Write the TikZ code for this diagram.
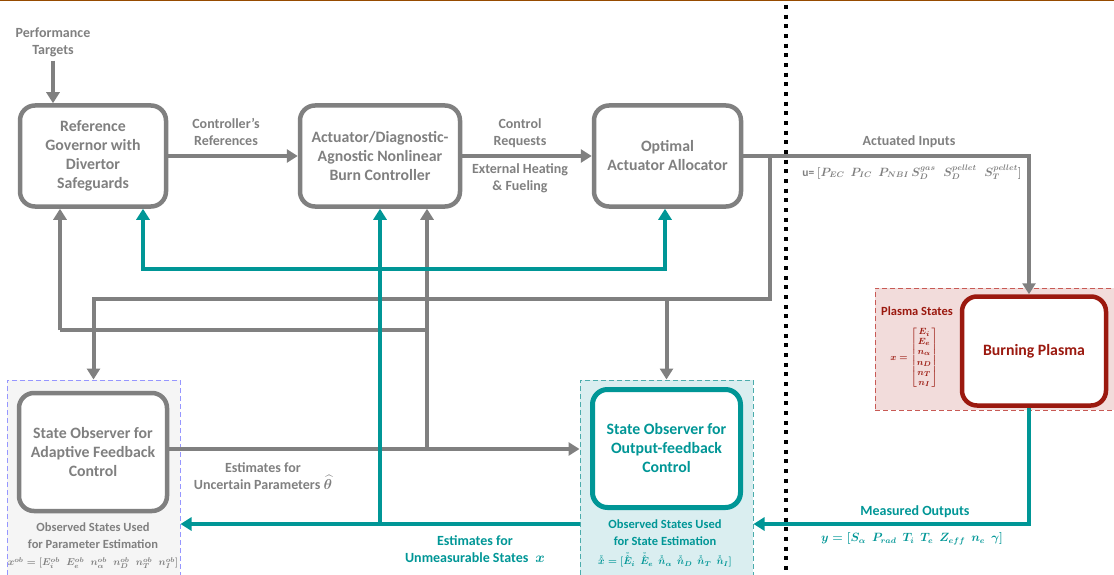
\documentclass[tikz,border=0pt]{standalone}
\usepackage{fontspec}
\setmainfont{Carlito}
\usepackage{amsmath}
\usepackage{bm}
\usetikzlibrary{arrows.meta}
\definecolor{ggray}{RGB}{128,128,128}
\definecolor{tealc}{RGB}{0,150,150}
\definecolor{dred}{RGB}{155,25,15}
\definecolor{brownline}{RGB}{150,75,0}
\definecolor{plasfill}{RGB}{242,220,219}
\definecolor{plasdash}{RGB}{200,90,85}
\definecolor{tealfill}{RGB}{218,238,240}
\definecolor{tealdash}{RGB}{75,172,172}
\definecolor{adfill}{RGB}{245,245,245}
\definecolor{addash}{RGB}{150,150,255}
\tikzset{
  boxg/.style={draw=ggray, line width=4.5pt, rounded corners=15pt, fill=white, align=center, text=ggray, font=\bfseries\fontsize{15.8}{19}\selectfont, inner sep=2pt},
  boxt/.style={boxg, draw=tealc, text=tealc, line width=5pt},
  boxr/.style={boxg, draw=dred, text=dred},
  region/.style={dash pattern=on 5pt off 3pt, line width=1pt, inner sep=0pt, minimum width=173pt, minimum height=200pt},
  lbl/.style={font=\bfseries\fontsize{14}{17}\selectfont, text=ggray, align=center, inner sep=0pt},
  slbl/.style={lbl, font=\bfseries\fontsize{12.5}{16.5}\selectfont},
  tlbl/.style={lbl, text=tealc},
  mth/.style={inner sep=0pt, font=\boldmath\fontsize{11}{13}\selectfont},
  garrow/.style={draw=ggray, line width=4pt, -{Triangle[width=13pt,length=11pt]}},
  tarrow/.style={draw=tealc, line width=4pt, -{Triangle[width=13pt,length=11pt]}},
}
\begin{document}
\begin{tikzpicture}[x=1pt,y=-1pt]
\useasboundingbox (0,0) rectangle (1114,575);
% top rule
\draw[brownline, line width=2pt] (0,0.5) -- (1114,0.5);

% regions
\node[region, draw=addash, fill=adfill] (adreg) at (93.5,480) {};
\node[region, draw=tealdash, fill=tealfill] (tealreg) at (666.5,480) {};
\node[region, draw=plasdash, fill=plasfill, minimum width=241pt, minimum height=122pt] (plasreg) at (995.5,349) {};

% boxes
\node[boxg, minimum width=146pt, minimum height=101pt] (gov) at (93,156) {Reference\\Governor with\\Divertor\\Safeguards};
\node[boxg, minimum width=160pt, minimum height=101pt] (act) at (380,156) {Actuator/Diagnostic-\\Agnostic Nonlinear\\Burn Controller};
\node[boxg, minimum width=147pt, minimum height=101pt] (alloc) at (667.5,156) {Optimal\\Actuator Allocator};
\node[boxr, minimum width=144pt, minimum height=109pt] (plasma) at (1034,351) {Burning Plasma};
\node[boxg, minimum width=148pt, minimum height=118pt] (adapt) at (93,452) {State Observer for\\Adaptive Feedback\\Control};
\node[boxt, minimum width=148pt, minimum height=118pt] (outfb) at (666.5,448.5) {State Observer for\\Output-feedback\\Control};

% labels
\node[lbl] (perf) at (53,42) {Performance\\Targets};
\node[lbl] (cref) at (226,132) {Controller's\\References};
\node[lbl] (creq) at (520,133) {Control\\Requests};
\node[lbl] (ext) at (520,178) {External Heating\\\& Fueling};
\node[lbl] (actin) at (909,142) {Actuated Inputs};
\node[mth, text=ggray, font=\bfseries\boldmath\fontsize{11.5}{13}\selectfont] (uform) at (912,172) {u= $\bm{[P_{EC}\;\, P_{IC}\;\, P_{NBI}\, S_D^{gas}\;\; S_D^{pellet}\;\; S_T^{pellet}]}$};
\node[lbl] (estpar) at (263,476) {Estimates for\\Uncertain Parameters $\widehat{\bm{\theta}}$};
\node[tlbl] (estx) at (475,549.5) {Estimates for\\Unmeasurable States\; $\bm{x}$};
\node[slbl] (obsad) at (93,535.5) {Observed States Used\\for Parameter Estimation};
\node[mth, text=ggray, font=\boldmath\fontsize{10}{12}\selectfont] (xob) at (93,563) {$\bm{x^{ob} = [E_i^{ob}\;\; E_e^{ob}\;\; n_\alpha^{ob}\;\; n_D^{ob}\;\; n_T^{ob}\;\; n_I^{ob}]}$};
\node[slbl, text=tealc] (obsst) at (665,532.5) {Observed States Used\\for State Estimation};
\node[mth, text=tealc, font=\boldmath\fontsize{10}{12}\selectfont] (xring) at (665,560) {$\mathring{\hat{\bm{x}}} = \bm{[}\mathring{\hat{\bm{E}}}_{\bm{i}}\;\, \mathring{\hat{\bm{E}}}_{\bm{e}}\;\, \mathring{\hat{\bm{n}}}_{\bm{\alpha}}\;\, \mathring{\hat{\bm{n}}}_{\bm{D}}\;\, \mathring{\hat{\bm{n}}}_{\bm{T}}\;\, \mathring{\hat{\bm{n}}}_{\bm{I}}\bm{]}$};
\node[tlbl] (meas) at (915,512) {Measured Outputs};
\node[mth, text=tealc, font=\boldmath\fontsize{11.5}{13}\selectfont] (yform) at (912,539) {$\bm{y = [S_\alpha\;\, P_{rad}\;\, T_i\;\, T_e\;\, Z_{eff}\;\, n_e\;\, \gamma]}$};
\node[slbl, text=dred] (plst) at (917,311) {Plasma States};
\node[mth, text=dred, font=\boldmath\fontsize{9.5}{11}\selectfont] (xmat) at (914,358) {\renewcommand{\arraystretch}{0.92}$\bm{x} \bm{=} \left[\begin{matrix}\bm{E_i}\\ \bm{E_e}\\ \bm{n_\alpha}\\ \bm{n_D}\\ \bm{n_T}\\ \bm{n_I}\end{matrix}\right]$};

% junction coordinates
\coordinate (br1) at (770,155);
\coordinate (br2) at (770,299);
\coordinate (j1) at (427,449);
\coordinate (j2) at (427,330);
\coordinate (g60) at (60,330);
\coordinate (ta) at (143,269);
\coordinate (tb) at (665,269);
\coordinate (tv) at (380,524);
\coordinate (mo) at (1029,524);

% gray connectors
\draw[garrow] (perf.south) ++(0,4) -- (perf.south |- gov.north);
\draw[garrow] (gov) -- (act);
\draw[garrow] (act) -- (alloc);
\draw[garrow] (alloc.east) -| ([xshift=-5pt]plasma.north);
\draw[garrow] (br1) -- (br2) -| (adreg.north);
\draw[garrow] (br2 -| tealreg.north) -- (tealreg.north);
\draw[garrow] ([yshift=3pt]adapt.east) -- ([yshift=3pt]adapt.east -| tealreg.west);
\draw[garrow] (j1) -- (j1 |- act.south);
\draw[draw=ggray, line width=4pt] (j2) -- (g60);
\draw[garrow] (g60) -- (g60 |- gov.south);

% teal connectors
\draw[tarrow] (tv -| tealreg.west) -- (tv -| adreg.east);
\draw[tarrow] (tv) -- (tv |- act.south);
\draw[draw=tealc, line width=4pt, {Triangle[width=13pt,length=11pt]}-{Triangle[width=13pt,length=11pt]}] (ta |- gov.south) -- (ta) -- (tb) -- (tb |- alloc.south);
\draw[tarrow] ([xshift=-5pt]plasma.south) -- (mo) -- (mo -| tealreg.east);

% separator
\draw[black, line width=4pt, dash pattern=on 4pt off 5.67pt] (786,5) -- (786,580);
\end{tikzpicture}
\end{document}
